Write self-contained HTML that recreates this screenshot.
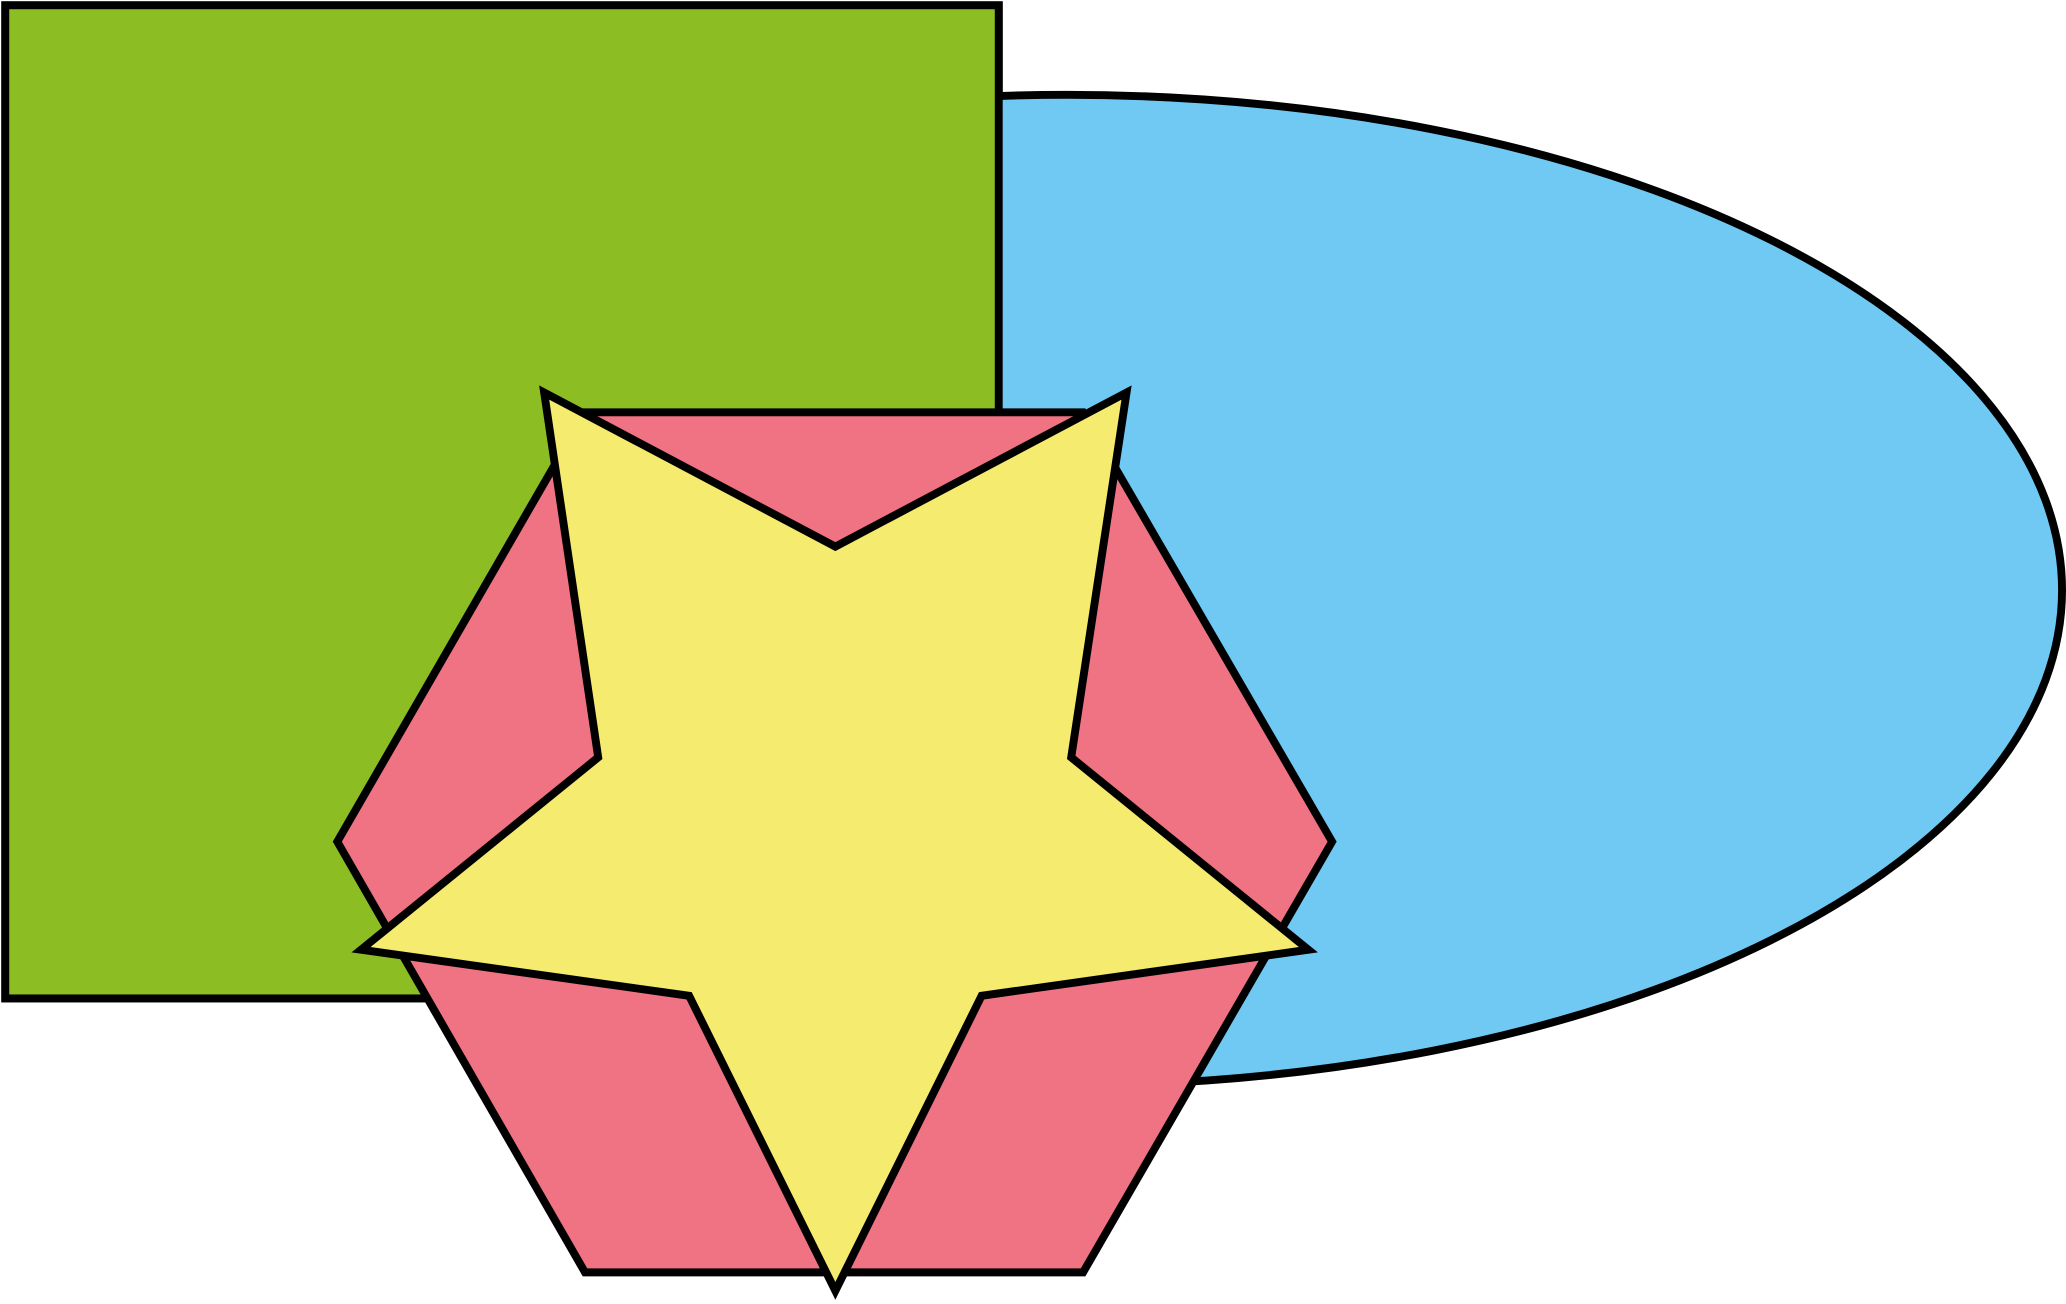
<!DOCTYPE html>
<html>
<head>
<meta charset="utf-8">
<style>
  html,body{margin:0;padding:0;background:#fff;}
  svg{display:block;}
</style>
</head>
<body>
<svg width="2066" height="1304" viewBox="0 0 1568 990" preserveAspectRatio="none" xmlns="http://www.w3.org/2000/svg">
  <rect x="4" y="4" width="754" height="754" fill="#8CBE24" stroke="#000" stroke-width="6"/>
  <ellipse cx="810" cy="448" rx="755" ry="376" fill="#6FC9F3" stroke="#000" stroke-width="6"/>
  <rect x="4" y="4" width="754" height="754" fill="#8CBE24" stroke="#000" stroke-width="6"/>
  <polygon points="444,966 822,966 1011,639 822,313 444,313 256,639" fill="#EF7383" stroke="#000" stroke-width="6"/>
  <polygon points="634,980 523,756 274,721 454,575 413,298 634,415 855,298 813,575 993,721 745,756" fill="#F4EB6F" stroke="#000" stroke-width="6"/>
</svg>
</body>
</html>
